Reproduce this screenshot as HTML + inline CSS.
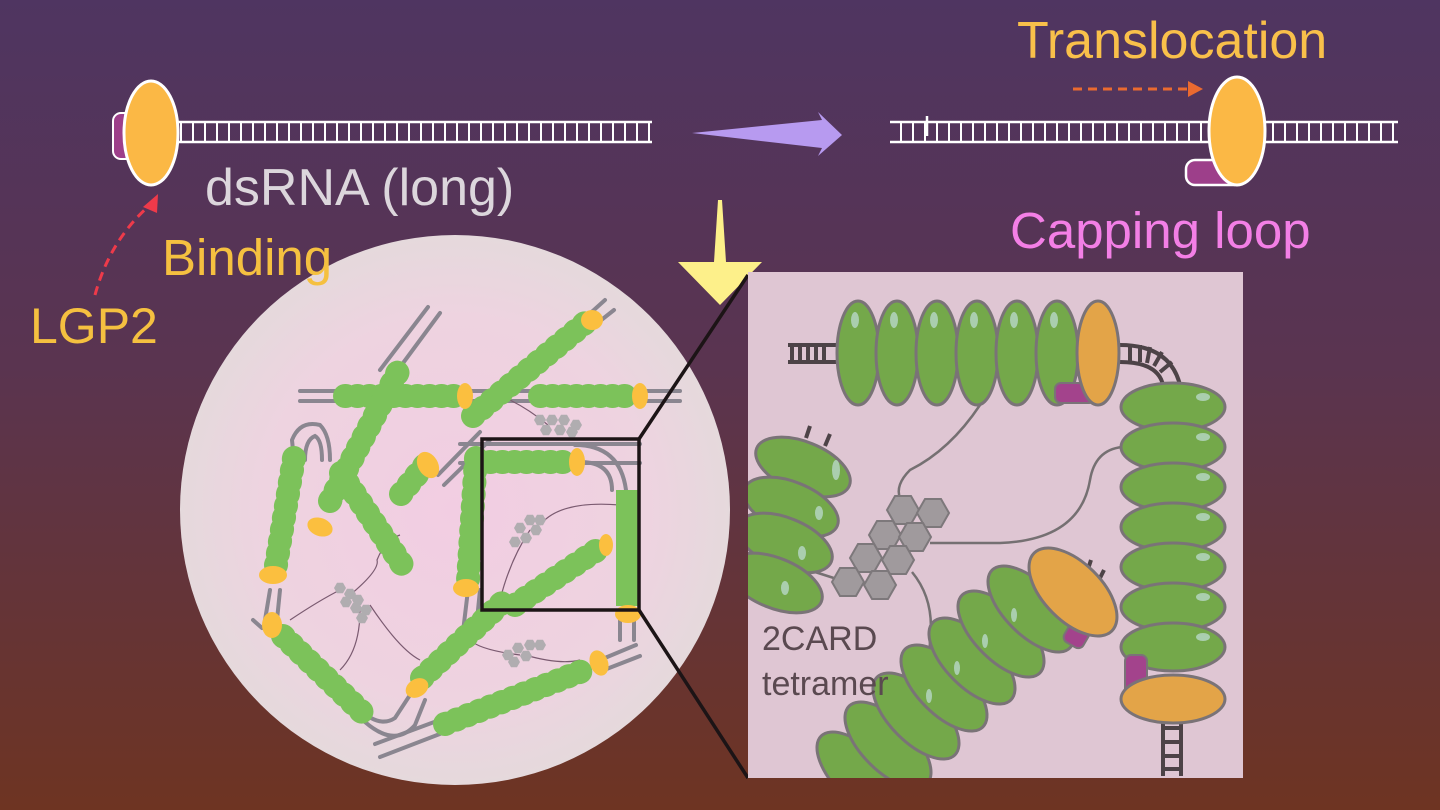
<!DOCTYPE html>
<html><head><meta charset="utf-8"><style>
html,body{margin:0;padding:0;width:1440px;height:810px;overflow:hidden}
svg{display:block}
text{font-family:"Liberation Sans",sans-serif}
</style></head><body>
<svg width="1440" height="810" viewBox="0 0 1440 810" xmlns="http://www.w3.org/2000/svg">
<defs>
<linearGradient id="bg" x1="0" y1="0" x2="0" y2="1">
<stop offset="0" stop-color="#4f3561"/><stop offset="0.45" stop-color="#5a3450"/><stop offset="1" stop-color="#6e3422"/>
</linearGradient>
<radialGradient id="circ" cx="0.5" cy="0.5" r="0.5">
<stop offset="0" stop-color="#f2cde2"/><stop offset="0.7" stop-color="#eed3e0"/><stop offset="1" stop-color="#e5d9dc"/>
</radialGradient>
<pattern id="rungs" x="0" y="0" width="12" height="30" patternUnits="userSpaceOnUse">
<rect x="0" y="0" width="2" height="30" fill="#fff"/>
</pattern>
<clipPath id="panel"><rect x="748" y="272" width="495" height="506"/></clipPath>
<g id="hex"><polygon points="16,0 8,14 -8,14 -16,0 -8,-14 8,-14" fill="#a09a9d" stroke="#7d787b" stroke-width="2"/></g>
<g id="shex"><polygon points="6,0 3,5.2 -3,5.2 -6,0 -3,-5.2 3,-5.2" fill="#b0adb0"/></g>
</defs>
<rect width="1440" height="810" fill="url(#bg)"/>

<rect x="178" y="122" width="472" height="20" fill="url(#rungs)"/>
<line x1="178" y1="122" x2="652" y2="122" stroke="#fff" stroke-width="2.5"/>
<line x1="178" y1="142" x2="652" y2="142" stroke="#fff" stroke-width="2.5"/>
<rect x="113" y="113" width="30" height="46" rx="8" fill="#9d3f8a" stroke="#fff" stroke-width="2"/>
<ellipse cx="151" cy="133" rx="27" ry="52" fill="#fbb845" stroke="#fff" stroke-width="3"/>
<text x="205" y="205" font-size="52" fill="#dcd6dc">dsRNA (long)</text>

<polygon points="692,133 822,120 818,112 842,135 818,156 822,148" fill="#b79af0"/>

<rect x="890" y="122" width="508" height="20" fill="url(#rungs)"/>
<line x1="890" y1="122" x2="1398" y2="122" stroke="#fff" stroke-width="2.5"/>
<line x1="890" y1="142" x2="1398" y2="142" stroke="#fff" stroke-width="2.5"/>
<line x1="927" y1="116" x2="927" y2="136" stroke="#fff" stroke-width="2.5"/>
<rect x="1186" y="160" width="56" height="25" rx="9" fill="#9d3f8a" stroke="#fff" stroke-width="2.5"/>
<ellipse cx="1237" cy="131" rx="28" ry="54" fill="#fbb845" stroke="#fff" stroke-width="3"/>
<text x="1017" y="58" font-size="52" fill="#f9c04a">Translocation</text>
<line x1="1073" y1="89" x2="1190" y2="89" stroke="#ea6a30" stroke-width="3" stroke-dasharray="9,6"/>
<polygon points="1188,81 1203,89 1188,97" fill="#ea6a30"/>
<text x="1010" y="248" font-size="51" fill="#f37fe6">Capping loop</text>

<text x="30" y="343" font-size="50" fill="#f5c040">LGP2</text>
<path d="M95,295 Q110,240 150,205" fill="none" stroke="#ee3a4a" stroke-width="3" stroke-dasharray="9,6"/>
<polygon points="143,207 158,194 157,213" fill="#ee3a4a"/>

<polygon points="718,200 722,200 726,262 762,262 720,305 678,262 714,262" fill="#fdf08a"/>

<circle cx="455" cy="510" r="275" fill="url(#circ)"/>
<text x="162" y="275" font-size="51" fill="#f5c040">Binding</text>
<g stroke="#8a8690" stroke-width="4" fill="none" stroke-linecap="round">
<line x1="300" y1="391" x2="680" y2="391"/><line x1="300" y1="401" x2="680" y2="401"/>
<line x1="380" y1="370" x2="428" y2="307"/><line x1="392" y1="378" x2="440" y2="313"/>
<line x1="585" y1="318" x2="605" y2="300"/><line x1="595" y1="325" x2="614" y2="310"/>
<path d="M294,460 L292,440 Q300,420 320,425 Q330,435 330,460"/>
<path d="M305,460 Q305,440 315,436 Q322,440 322,460"/>
<line x1="270" y1="590" x2="265" y2="620"/><line x1="280" y1="590" x2="277" y2="620"/>
<line x1="460" y1="444" x2="640" y2="444"/><line x1="460" y1="463" x2="640" y2="463"/>
<path d="M575,445 Q620,445 626,490"/><path d="M580,462 Q612,462 612,490"/>
<line x1="438" y1="475" x2="480" y2="432"/><line x1="444" y1="485" x2="490" y2="440"/>
<line x1="620" y1="620" x2="620" y2="640"/><line x1="634" y1="620" x2="634" y2="640"/>
<line x1="600" y1="660" x2="636" y2="645"/><line x1="604" y1="670" x2="640" y2="656"/>
<line x1="375" y1="744" x2="445" y2="718"/><line x1="380" y1="757" x2="445" y2="732"/>
<path d="M360,710 Q380,728 395,718 L410,695"/><path d="M365,722 Q395,748 415,725 L425,700"/>
<line x1="468" y1="590" x2="462" y2="640"/><line x1="480" y1="590" x2="475" y2="640"/>
<line x1="253" y1="620" x2="262" y2="628"/>
</g>
<g stroke="#7a5a70" stroke-width="1.2" fill="none">
<path d="M340,590 Q320,600 290,620"/><path d="M350,595 Q380,570 377,560 Q385,540 400,535"/>
<path d="M360,610 Q360,650 340,670"/><path d="M370,605 Q400,650 420,660"/>
<path d="M530,530 Q510,560 500,600"/><path d="M540,525 Q560,500 620,505"/>
<path d="M520,655 Q480,650 470,640"/><path d="M525,655 Q560,665 580,660"/>
<path d="M548,425 Q530,410 510,400"/>
</g>
<g>
<use href="#shex" x="340" y="588"/><use href="#shex" x="350" y="594"/><use href="#shex" x="358" y="600"/><use href="#shex" x="346" y="602"/><use href="#shex" x="356" y="608"/><use href="#shex" x="366" y="610"/><use href="#shex" x="362" y="618"/>
<use href="#shex" x="520" y="528"/><use href="#shex" x="530" y="520"/><use href="#shex" x="540" y="520"/><use href="#shex" x="526" y="538"/><use href="#shex" x="515" y="542"/><use href="#shex" x="536" y="530"/>
<use href="#shex" x="540" y="420"/><use href="#shex" x="552" y="420"/><use href="#shex" x="564" y="420"/><use href="#shex" x="576" y="425"/><use href="#shex" x="546" y="430"/><use href="#shex" x="560" y="430"/><use href="#shex" x="572" y="432"/>
<use href="#shex" x="508" y="655"/><use href="#shex" x="518" y="648"/><use href="#shex" x="530" y="645"/><use href="#shex" x="514" y="662"/><use href="#shex" x="526" y="656"/><use href="#shex" x="540" y="645"/>
</g>
<g stroke="#7cc25a" stroke-width="24" stroke-linecap="round" fill="none" stroke-dasharray="1,11">
<line x1="345" y1="396" x2="455" y2="396"/>
<line x1="540" y1="396" x2="630" y2="396"/>
<line x1="330" y1="501" x2="401" y2="366"/>
<line x1="341" y1="473" x2="403" y2="566"/>
<line x1="473" y1="416" x2="585" y2="323"/>
<line x1="294" y1="458" x2="276" y2="565"/>
<line x1="401" y1="494" x2="425" y2="465"/>
<line x1="476" y1="458" x2="468" y2="580"/>
<line x1="283" y1="636" x2="366" y2="716"/>
<line x1="422" y1="678" x2="505" y2="600"/>
<line x1="445" y1="724" x2="590" y2="668"/>
<line x1="490" y1="462" x2="566" y2="462"/>
<line x1="515" y1="605" x2="600" y2="548"/>
</g>
<rect x="616" y="490" width="22" height="116" fill="#7cc25a"/>
<g fill="#fbbf3f">
<ellipse cx="465" cy="396" rx="8" ry="13"/><ellipse cx="640" cy="396" rx="8" ry="13"/>
<ellipse cx="592" cy="320" rx="11" ry="10"/><ellipse cx="273" cy="575" rx="14" ry="9"/>
<ellipse cx="428" cy="465" rx="10" ry="14" transform="rotate(-30 428 465)"/>
<ellipse cx="466" cy="588" rx="13" ry="9"/><ellipse cx="272" cy="625" rx="10" ry="13"/>
<ellipse cx="417" cy="688" rx="12" ry="9" transform="rotate(-30 417 688)"/>
<ellipse cx="599" cy="663" rx="9" ry="13" transform="rotate(-20 599 663)"/>
<ellipse cx="577" cy="462" rx="8" ry="14"/><ellipse cx="606" cy="545" rx="7" ry="11"/>
<ellipse cx="628" cy="614" rx="13" ry="9"/><ellipse cx="320" cy="527" rx="13" ry="9" transform="rotate(20 320 527)"/>
</g>
<rect x="482" y="439" width="157" height="171" fill="none" stroke="#1c1416" stroke-width="3.5"/>
<line x1="639" y1="439" x2="748" y2="275" stroke="#1c1416" stroke-width="3.5"/>
<line x1="639" y1="610" x2="748" y2="778" stroke="#1c1416" stroke-width="3.5"/>

<rect x="748" y="272" width="495" height="506" fill="#dfc6d3"/>
<g clip-path="url(#panel)">
<g stroke="#4d4347" stroke-width="4" fill="none">
<line x1="788" y1="345" x2="840" y2="345"/><line x1="788" y1="362" x2="840" y2="362"/>
<line x1="792" y1="345" x2="792" y2="362"/><line x1="800" y1="345" x2="800" y2="362"/><line x1="808" y1="345" x2="808" y2="362"/><line x1="816" y1="345" x2="816" y2="362"/><line x1="824" y1="345" x2="824" y2="362"/>
<path d="M1120,345 Q1170,345 1180,385"/><path d="M1120,362 Q1158,362 1163,385"/>
<line x1="1130" y1="345" x2="1130" y2="362"/><line x1="1140" y1="345" x2="1140" y2="362"/><line x1="1150" y1="347" x2="1147" y2="363"/><line x1="1162" y1="352" x2="1154" y2="366"/><line x1="1172" y1="362" x2="1160" y2="372"/>
<line x1="1163" y1="715" x2="1163" y2="776"/><line x1="1181" y1="715" x2="1181" y2="776"/>
<line x1="1163" y1="728" x2="1181" y2="728"/><line x1="1163" y1="742" x2="1181" y2="742"/><line x1="1163" y1="756" x2="1181" y2="756"/><line x1="1163" y1="769" x2="1181" y2="769"/>
<line x1="810" y1="426" x2="806" y2="438"/><line x1="830" y1="434" x2="825" y2="446"/>
<line x1="1091" y1="560" x2="1087" y2="572"/><line x1="1104" y1="570" x2="1098" y2="582"/>
</g>
<g stroke="#757072" stroke-width="2.5" fill="none">
<path d="M980,405 Q950,450 910,470 Q895,485 900,498"/>
<path d="M1122,447 Q1095,450 1090,480 Q1080,540 1000,543 L930,543"/>
<path d="M912,572 Q935,600 930,640 L928,700"/>
<path d="M815,572 L840,580"/>
</g>
<g>
<use href="#hex" x="903" y="510"/><use href="#hex" x="933" y="513"/><use href="#hex" x="885" y="535"/><use href="#hex" x="915" y="537"/>
<use href="#hex" x="866" y="558"/><use href="#hex" x="898" y="560"/><use href="#hex" x="848" y="582"/><use href="#hex" x="880" y="585"/>
</g>
<g fill="#74a84a" stroke="#7a7377" stroke-width="3">
<ellipse cx="858" cy="353" rx="21" ry="52"/><ellipse cx="897" cy="353" rx="21" ry="52"/><ellipse cx="937" cy="353" rx="21" ry="52"/>
<ellipse cx="977" cy="353" rx="21" ry="52"/><ellipse cx="1017" cy="353" rx="21" ry="52"/><ellipse cx="1057" cy="353" rx="21" ry="52"/>
<ellipse cx="1173" cy="407" rx="52" ry="24"/><ellipse cx="1173" cy="447" rx="52" ry="24"/><ellipse cx="1173" cy="487" rx="52" ry="24"/>
<ellipse cx="1173" cy="527" rx="52" ry="24"/><ellipse cx="1173" cy="567" rx="52" ry="24"/><ellipse cx="1173" cy="607" rx="52" ry="24"/><ellipse cx="1173" cy="647" rx="52" ry="24"/>
<ellipse cx="803" cy="467" rx="50" ry="25" transform="rotate(22 803 467)"/>
<ellipse cx="791" cy="507" rx="50" ry="25" transform="rotate(22 791 507)"/>
<ellipse cx="785" cy="543" rx="50" ry="25" transform="rotate(22 785 543)"/>
<ellipse cx="775" cy="583" rx="50" ry="25" transform="rotate(22 775 583)"/>
<ellipse cx="860" cy="775" rx="55" ry="26" transform="rotate(45 860 775)"/>
<ellipse cx="888" cy="745" rx="55" ry="26" transform="rotate(45 888 745)"/>
<ellipse cx="916" cy="716" rx="55" ry="26" transform="rotate(45 916 716)"/>
<ellipse cx="944" cy="688" rx="55" ry="26" transform="rotate(45 944 688)"/>
<ellipse cx="972" cy="661" rx="55" ry="26" transform="rotate(45 972 661)"/>
<ellipse cx="1001" cy="634" rx="55" ry="26" transform="rotate(45 1001 634)"/>
<ellipse cx="1031" cy="609" rx="55" ry="26" transform="rotate(45 1031 609)"/>
</g>
<g fill="#a3438c" stroke="#7a7377" stroke-width="2">
<rect x="1055" y="383" width="40" height="20" rx="6"/>
<rect x="1125" y="655" width="22" height="45" rx="6"/>
<rect x="1068" y="615" width="22" height="32" rx="6" transform="rotate(30 1079 631)"/>
</g>
<g fill="#e3a448" stroke="#7a7377" stroke-width="3">
<ellipse cx="1098" cy="353" rx="21" ry="52"/>
<ellipse cx="1173" cy="699" rx="52" ry="24"/>
<ellipse cx="1073" cy="592" rx="55" ry="29" transform="rotate(45 1073 592)"/>
</g>
<g fill="#b8d8c8" opacity="0.8">
<ellipse cx="855" cy="320" rx="4" ry="8"/><ellipse cx="894" cy="320" rx="4" ry="8"/><ellipse cx="934" cy="320" rx="4" ry="8"/><ellipse cx="974" cy="320" rx="4" ry="8"/><ellipse cx="1014" cy="320" rx="4" ry="8"/><ellipse cx="1054" cy="320" rx="4" ry="8"/>
<ellipse cx="1203" cy="397" rx="7" ry="4"/><ellipse cx="1203" cy="437" rx="7" ry="4"/><ellipse cx="1203" cy="477" rx="7" ry="4"/><ellipse cx="1203" cy="517" rx="7" ry="4"/><ellipse cx="1203" cy="557" rx="7" ry="4"/><ellipse cx="1203" cy="597" rx="7" ry="4"/><ellipse cx="1203" cy="637" rx="7" ry="4"/>
<ellipse cx="836" cy="470" rx="4" ry="10"/><ellipse cx="819" cy="513" rx="4" ry="7"/><ellipse cx="802" cy="553" rx="4" ry="7"/><ellipse cx="785" cy="588" rx="4" ry="7"/>
<ellipse cx="1014" cy="615" rx="3" ry="7"/><ellipse cx="985" cy="641" rx="3" ry="7"/><ellipse cx="957" cy="668" rx="3" ry="7"/><ellipse cx="929" cy="696" rx="3" ry="7"/>
</g>
<text x="762" y="650" font-size="34" fill="#5a4950">2CARD</text>
<text x="762" y="695" font-size="34" fill="#5a4950">tetramer</text>
</g>
</svg>
</body></html>
